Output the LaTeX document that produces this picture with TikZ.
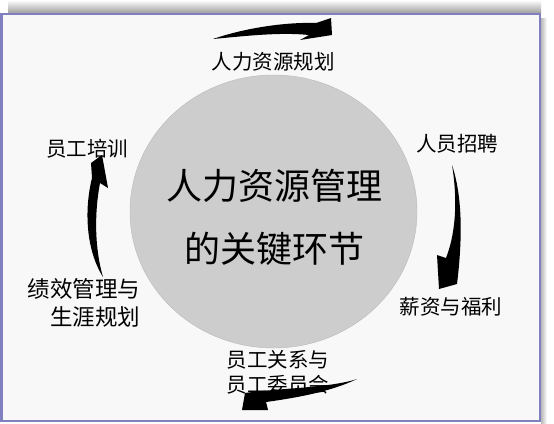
\documentclass[tikz,border=0pt]{standalone}
\usepackage{fontspec}
\setmainfont{Noto Sans CJK SC}
\usetikzlibrary{shapes.geometric}
\definecolor{framepurple}{RGB}{128,128,192}
\definecolor{pagegray}{RGB}{248,248,248}
\definecolor{discgray}{RGB}{205,205,205}
\tikzset{
  stage/.style={font=\fontsize{20.5}{25}\selectfont, inner sep=0pt, align=center},
  swoosh/.style={fill=black, draw=none}
}
\begin{document}
\begin{tikzpicture}[x=1pt,y=-1pt]
	\useasboundingbox (0,0) rectangle (554,423);
	\fill[white] (0,0) rectangle (554,423);
	\shade[top color=white, bottom color=gray!75] (8,0) rectangle (541,13); % title strip
	\shade[left color=gray!55, right color=white] (541,18) rectangle (547,423); % shadow
	\fill[pagegray] (3,15) rectangle (539,420); % page
	\fill[framepurple] (0,13) rectangle (541,15); % frame top
	\fill[framepurple] (0,13) rectangle (3,422); % frame left
	\fill[framepurple] (539,13) rectangle (541,422); % frame right
	\fill[framepurple] (0,420) rectangle (541,422); % frame bottom

	\node[ellipse, draw=gray!55, fill=discgray, minimum width=287pt, minimum height=273pt] (disc) at (273.5,211.5) {};
	\node[font=\fontsize{36}{63}\selectfont, align=center, inner sep=0pt] (hub) at (274,217) {人力资源管理\\的关键环节};

	\node[stage] (plan) at (273,62) {人力资源规划};
	\node[stage] (hire) at (457,144) {人员招聘};
	\node[stage] (pay) at (451,307) {薪资与福利};
	\node[stage] (relation) at (278,372) {员工关系与\\员工委员会};
	\node[stage, font=\fontsize{22.5}{28}\selectfont, align=right] (review) at (84,303) {绩效管理与\\生涯规划};
	\node[stage] (train) at (87,149) {员工培训};

	% top swoosh
	\fill[swoosh] (213,39) .. controls (245,28) and (285,22) .. (316,23) -- (331,18) -- (332,35) -- (300,40) -- (309,35) .. controls (280,32) and (245,36) .. (213,39) -- cycle;
	% right swoosh
	\fill[swoosh] (452,165) .. controls (462,195) and (463,235) .. (457,284) -- (439,289) -- (437,255) -- (446,258) .. controls (457,230) and (457,195) .. (452,165) -- cycle;
	% bottom swoosh
	\fill[swoosh] (357,379) .. controls (330,388) and (280,388) .. (245,393) -- (242,410) -- (268,410) -- (266,402) .. controls (295,398) and (330,392) .. (357,379) -- cycle;
	% left swoosh
	\fill[swoosh] (103,277) .. controls (86,250) and (84,210) .. (92,178) -- (91,163) -- (102,155) -- (108,188) -- (100,183) .. controls (94,215) and (95,250) .. (103,277) -- cycle;
\end{tikzpicture}
\end{document}
